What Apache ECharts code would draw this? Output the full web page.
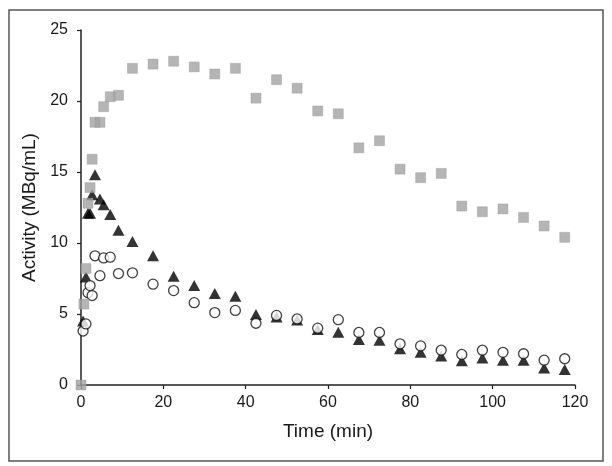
<!DOCTYPE html>
<html>
<head>
<meta charset="utf-8">
<script src="https://cdn.jsdelivr.net/npm/echarts@6/dist/echarts.min.js"></script>
<style>
html,body{margin:0;padding:0;background:#fff;}
#chart{width:612px;height:466px;}
</style>
</head>
<body>
<div id="chart"></div>
<script>
// Sample times (min)
var times = [0.5, 1.2, 1.7, 2.2, 2.7, 3.4, 4.6, 5.5, 7.1, 9.1, 12.5,
  17.5, 22.5, 27.5, 32.5, 37.5, 42.5, 47.5, 52.5, 57.5, 62.5,
  67.5, 72.5, 77.5, 82.5, 87.5, 92.5, 97.5, 102.5, 107.5, 112.5, 117.5];
var squareTimes = [0, 0.7, 1.2, 1.7, 2.2, 2.7, 3.4, 4.6, 5.5, 7.1, 9.1, 12.5,
  17.5, 22.5, 27.5, 32.5, 37.5, 42.5, 47.5, 52.5, 57.5, 62.5,
  67.5, 72.5, 77.5, 82.5, 87.5, 92.5, 97.5, 102.5, 107.5, 112.5, 117.5];
// Grey squares
var squareValues = [0, 5.7, 8.2, 12.8, 13.9, 15.9, 18.5, 18.5, 19.6, 20.3, 20.4, 22.3,
  22.6, 22.8, 22.4, 21.9, 22.3, 20.2, 21.5, 20.9, 19.3, 19.1,
  16.7, 17.2, 15.2, 14.6, 14.9, 12.6, 12.2, 12.4, 11.8, 11.2, 10.4];
// Black triangles
var triangleValues = [4.5, 7.6, 12.1, 12.1, 13.4, 14.8, 13.1, 12.7, 12.0, 10.9, 10.1,
  9.1, 7.65, 7.0, 6.45, 6.25, 4.97, 4.78, 4.57, 3.9, 3.72,
  3.2, 3.15, 2.55, 2.3, 2.05, 1.7, 1.9, 1.75, 1.75, 1.2, 1.1];
// Open circles
var circleValues = [3.8, 4.3, 6.5, 7.0, 6.3, 9.1, 7.7, 8.95, 9.0, 7.85, 7.9,
  7.1, 6.65, 5.8, 5.1, 5.25, 4.35, 4.9, 4.65, 4.0, 4.6,
  3.7, 3.7, 2.9, 2.75, 2.45, 2.15, 2.45, 2.3, 2.2, 1.75, 1.85];

var xTicks = [0, 20, 40, 60, 80, 100, 120];
var yTicks = [0, 5, 10, 15, 20, 25];

function pairs(xs, ys){ return xs.map(function(x,i){ return [x, ys[i]]; }); }

var chart = echarts.init(document.getElementById('chart'), null, {renderer:'canvas'});
var font = 'Liberation Sans, Arial, sans-serif';
chart.setOption({
  animation: false,
  backgroundColor: '#fff',
  grid: {left: 81, right: 37, top: 30, bottom: 81, containLabel: false},
  graphic: [{
    type: 'rect', shape: {x: 9, y: 10, width: 594, height: 451},
    style: {fill: 'none', stroke: '#555', lineWidth: 1.5}, z: -1
  }],
  xAxis: {
    type: 'value', min: xTicks[0], max: xTicks[xTicks.length-1], interval: 20,
    name: 'Time (min)', nameLocation: 'middle', nameGap: 37,
    nameTextStyle: {fontFamily: font, fontSize: 19, color: '#1a1a1a'},
    axisLine: {show: true, onZero: false, lineStyle: {color: '#222', width: 1.5}},
    axisTick: {show: true, inside: false, length: 4, lineStyle: {color: '#222', width: 1.2}},
    axisLabel: {fontFamily: font, fontSize: 16, color: '#1a1a1a', margin: 10},
    splitLine: {show: false}
  },
  yAxis: {
    type: 'value', min: yTicks[0], max: yTicks[yTicks.length-1], interval: 5,
    name: 'Activity (MBq/mL)', nameLocation: 'middle', nameGap: 35, nameRotate: 90,
    nameTextStyle: {fontFamily: font, fontSize: 19, color: '#1a1a1a'},
    axisLine: {show: true, onZero: false, lineStyle: {color: '#222', width: 1.5}},
    axisTick: {show: true, inside: false, length: 4, lineStyle: {color: '#222', width: 1.2}},
    axisLabel: {fontFamily: font, fontSize: 16, color: '#1a1a1a', margin: 13},
    splitLine: {show: false}
  },
  series: [
    {
      type: 'scatter', name: 'circles', data: pairs(times, circleValues),
      symbol: 'circle', symbolSize: 10,
      itemStyle: {color: '#fff', borderColor: '#111', borderWidth: 1.3}, z: 3
    },
    {
      type: 'scatter', name: 'triangles', data: pairs(times, triangleValues),
      symbol: 'triangle', symbolSize: [12, 11],
      itemStyle: {color: '#000'}, z: 2
    },
    {
      type: 'scatter', name: 'squares', data: pairs(squareTimes, squareValues),
      symbol: 'rect', symbolSize: 10,
      itemStyle: {color: '#a3a3a3', borderColor: '#999', borderWidth: 0.5}, z: 4
    }
  ]
});
</script>
</body>
</html>
